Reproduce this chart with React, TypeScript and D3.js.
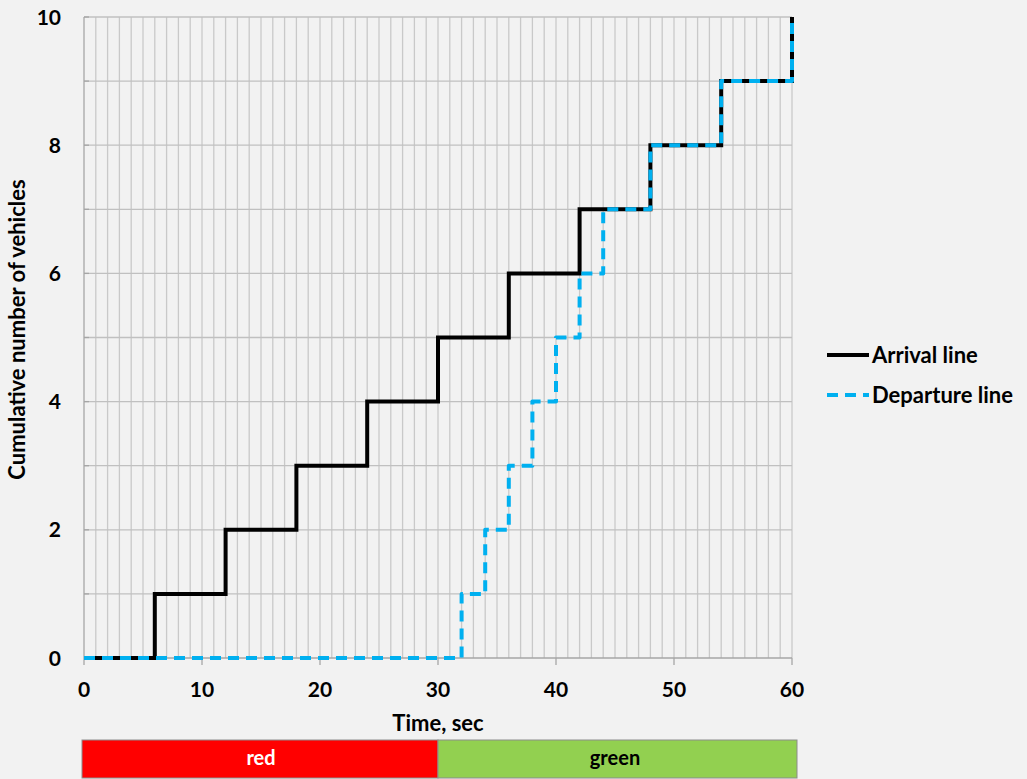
import { useMemo } from 'react';
import * as d3 from 'd3';

// step times (sec) at which the cumulative count goes up by one
const arrivalTimes = [6, 12, 18, 24, 30, 36, 42, 48, 54, 60];
const departureTimes = [32, 34, 36, 38, 40, 42, 44, 48, 54, 60];
const xTicks = [0, 10, 20, 30, 40, 50, 60];
const yTicks = [0, 2, 4, 6, 8, 10];
const phases = [
	{ label: 'red', start: 0, end: 30, color: '#ff0000' },
	{ label: 'green', start: 30, end: 60, color: '#92d050' },
];
const legendItems = [
	{ label: 'Arrival line', color: '#000000', dash: '0' },
	{ label: 'Departure line', color: '#00b0f0', dash: '11,7' },
];

const W = 1027;
const H = 779;
const font = 'Lato, "Open Sans", sans-serif';

// turn step times into a list of points starting from 0
function stepPoints(times: number[]) {
	const pts: [number, number][] = [[0, 0]];
	times.forEach((t, i) => pts.push([t, i + 1]));
	return pts;
}

export default function App() {
	const x = useMemo(() => d3.scaleLinear().domain([0, 60]).range([84, 792]), []);
	const y = useMemo(() => d3.scaleLinear().domain([0, 10]).range([658, 17]), []);

	const line = d3
		.line<[number, number]>()
		.x((d) => x(d[0]))
		.y((d) => y(d[1]))
		.curve(d3.curveStepAfter);

	const minorX = d3.range(1, 61);
	const minorY = d3.range(1, 11);

	return (
		<div>
			<style>{'body{margin:0;background:#f2f2f2}'}</style>
			<svg width={W} height={H} style={{ display: 'block', background: '#f2f2f2' }}>
				{/* vertical gridlines every second */}
				{minorX.map((t) => (
					<line key={'vx' + t} x1={x(t)} x2={x(t)} y1={y(0)} y2={y(10)} stroke="#c9c9c9" strokeWidth={1.3} />
				))}
				{/* horizontal gridlines */}
				{minorY.map((v) => (
					<line key={'hy' + v} x1={x(0)} x2={x(60)} y1={y(v)} y2={y(v)} stroke="#c0c0c0" strokeWidth={1.3} />
				))}
				{/* y axis */}
				<line x1={x(0)} x2={x(0)} y1={y(0)} y2={y(10)} stroke="#a6a6a6" strokeWidth={1.3} />
				{minorY.map((v) => (
					<line key={'ty' + v} x1={x(0)} x2={x(0) + 5} y1={y(v)} y2={y(v)} stroke="#a6a6a6" strokeWidth={1.3} />
				))}
				{/* x axis */}
				<line x1={x(0)} x2={x(60)} y1={y(0)} y2={y(0)} stroke="#a6a6a6" strokeWidth={1.3} />
				{xTicks.map((t) => (
					<line key={'tx' + t} x1={x(t)} x2={x(t)} y1={y(0)} y2={y(0) + 7} stroke="#a6a6a6" strokeWidth={1.3} />
				))}

				{/* tick labels */}
				{yTicks.map((v) => (
					<text key={'yl' + v} x={61} y={y(v)} dy="0.36em" textAnchor="end" fontFamily={font} fontWeight="bold" fontSize={21} fill="#000">
						{v}
					</text>
				))}
				{xTicks.map((t) => (
					<text key={'xl' + t} x={x(t)} y={697} textAnchor="middle" fontFamily={font} fontWeight="bold" fontSize={21} fill="#000">
						{t}
					</text>
				))}

				{/* axis titles */}
				<text x={x(30)} y={731} textAnchor="middle" fontFamily={font} fontWeight="bold" fontSize={22}>
					Time, sec
				</text>
				<text
					transform={`translate(25,${(y(0) + y(10)) / 2 - 8}) rotate(-90)`}
					textAnchor="middle"
					fontFamily={font}
					fontWeight="bold"
					fontSize={22}
				>
					Cumulative number of vehicles
				</text>

				{/* cumulative curves */}
				<path d={line(stepPoints(arrivalTimes)) || ''} fill="none" stroke="#000" strokeWidth={4} strokeLinejoin="miter" />
				<path
					d={line(stepPoints(departureTimes)) || ''}
					fill="none"
					stroke="#00b0f0"
					strokeWidth={4}
					strokeDasharray="11,7"
					strokeLinejoin="round"
				/>

				{/* signal phase bar */}
				{phases.map((p) => (
					<g key={p.label}>
						<rect
							x={p.start === 0 ? x(p.start) - 2 : x(p.start)}
							y={740}
							width={x(p.end) - x(p.start) + (p.start === 0 ? 2 : 5)}
							height={38}
							fill={p.color}
							stroke="#8c8c8c"
							strokeWidth={1}
						/>
						<text x={(x(p.start) + x(p.end)) / 2} y={758} dy="0.35em" textAnchor="middle" fontFamily={font} fontWeight="bold" fontSize={20} fill={p.start === 0 ? '#fff' : '#000'}>
							{p.label}
						</text>
					</g>
				))}

				{/* legend */}
				{legendItems.map((item, i) => (
					<g key={item.label} transform={`translate(827,${355 + i * 40})`}>
						<line x1={0} x2={42} y1={0} y2={0} stroke={item.color} strokeWidth={4} strokeDasharray={item.dash} />
						<text x={45} y={0} dy="0.35em" fontFamily={font} fontWeight="bold" fontSize={22} fill="#000">
							{item.label}
						</text>
					</g>
				))}
			</svg>
		</div>
	);
}
